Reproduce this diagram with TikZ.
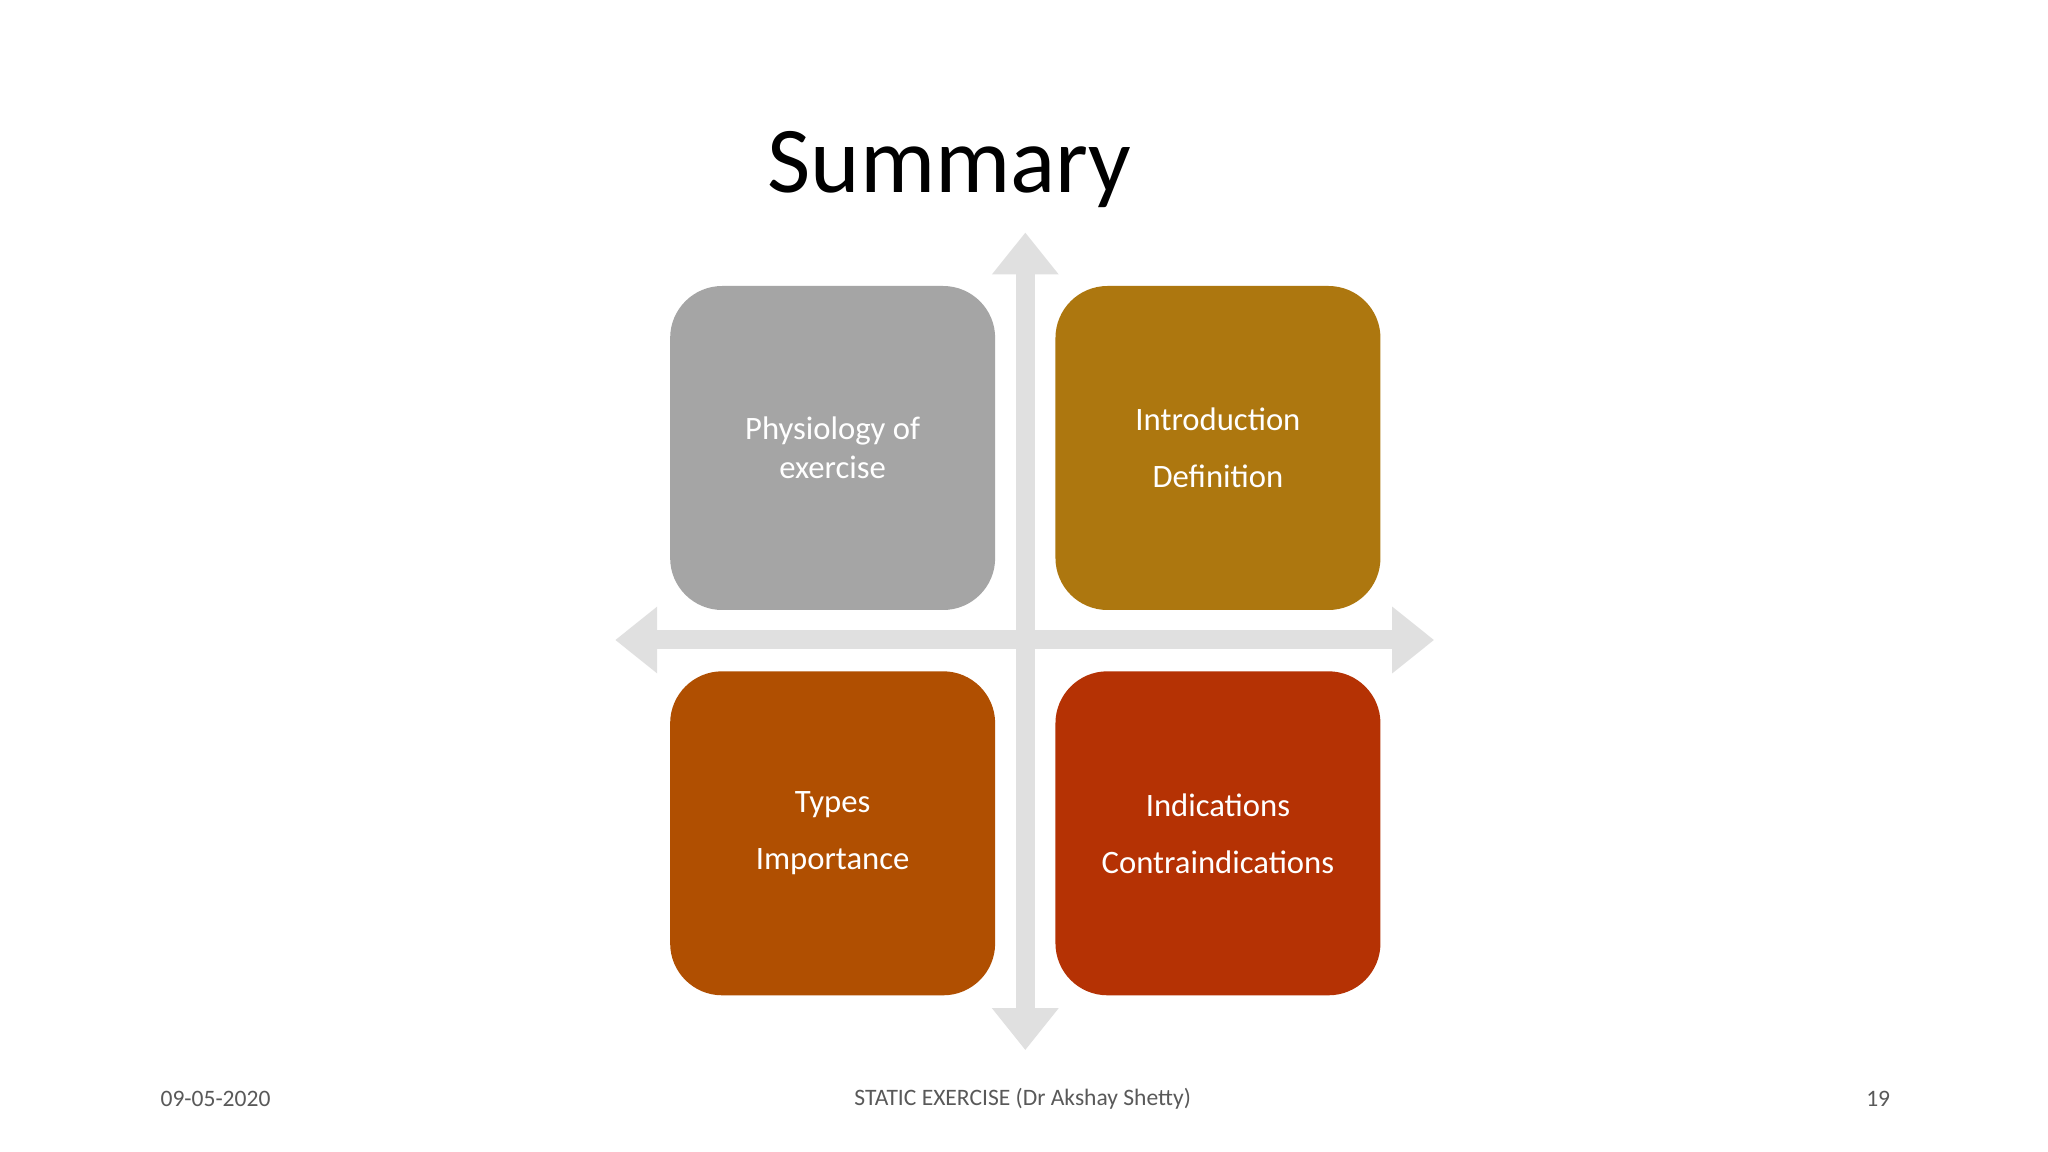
\documentclass[tikz,border=0pt]{standalone}
\usepackage{fontspec}
\setmainfont{Carlito}
\usetikzlibrary{arrows.meta}
\definecolor{cgray}{HTML}{A5A5A5}
\definecolor{cgold}{HTML}{AD770F}
\definecolor{corange}{HTML}{B04F01}
\definecolor{cred}{HTML}{B53204}
\definecolor{axis}{HTML}{E0E0E0}
\definecolor{foot}{HTML}{595959}
\tikzset{
  quad/.style={rounded corners=0.52cm, minimum width=3.25cm, minimum height=3.24cm, text=white, font=\fontsize{9.3}{11.2}\selectfont, align=center, inner sep=0pt},
  ax/.style={draw=axis, line width=0.19cm, {Triangle[width=0.64cm,length=0.42cm]}-{Triangle[width=0.64cm,length=0.42cm]}},
  ft/.style={text=foot, font=\fontsize{6.7}{8}\selectfont}
}
\begin{document}
\begin{tikzpicture}[x=0.01306cm,y=-0.01306cm]
\useasboundingbox[fill=white] (0,0) rectangle (1568,882);
\coordinate (vt) at (785,178);
\coordinate (vb) at (785,804);
\coordinate (hl) at (471,490);
\coordinate (hr) at (1098,490);
\draw[ax] (vt) -- (vb);
\draw[ax] (hl) -- (hr);
\node (title) at (727,130) {\fontsize{26.8}{30}\selectfont Summary};
\node[quad, fill=cgray] (tl) at (637.5,343) {Physiology of\\exercise};
\node[quad, fill=cgold] (tr) at (932.5,343) {Introduction\\[5pt]Definition};
\node[quad, fill=corange] (bl) at (637.5,638) {Types\\[5pt]Importance};
\node[quad, fill=cred] (br) at (932.5,638) {Indications\\[5pt]Contraindications};
\node[ft] (date) at (165,841) {09-05-2020};
\node[ft] (mid) at (783,841) {STATIC EXERCISE (Dr Akshay Shetty)};
\node[ft] (num) at (1438,841) {19};
\end{tikzpicture}
\end{document}
